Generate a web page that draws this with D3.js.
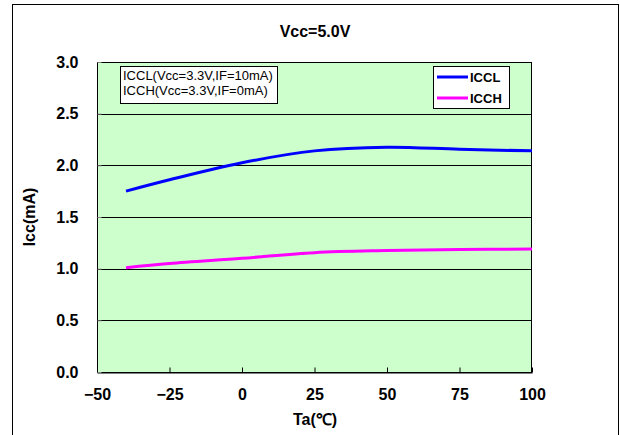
<!DOCTYPE html>
<html><head><meta charset="utf-8">
<script src="https://cdn.jsdelivr.net/npm/d3@7"></script>
<style>body{margin:0;background:#fff}svg{display:block}</style>
</head><body>
<svg id="c" width="620" height="435"></svg>
<script>
const temps = [-40, -25, 0, 25, 50, 75, 100];
const iccl = [1.75, 1.86, 2.025, 2.14, 2.175, 2.155, 2.14];
const icch = [1.01, 1.05, 1.10, 1.155, 1.175, 1.185, 1.19];
const xTicks = [-50, -25, 0, 25, 50, 75, 100];
const yTicks = [0, 0.5, 1.0, 1.5, 2.0, 2.5, 3.0];
const seriesNames = ["ICCL", "ICCH"];
const seriesColors = ["#0000FF", "#FF00FF"];
const noteLines = ["ICCL(Vcc=3.3V,IF=10mA)", "ICCH(Vcc=3.3V,IF=0mA)"];

const svg = d3.select("#c");
const L = 97, R = 532, T = 62, B = 372;
const x = d3.scaleLinear().domain([-50, 100]).range([L, R]);
const y = d3.scaleLinear().domain([0, 3]).range([B, T]);
const bold = "'Liberation Sans', Arial, sans-serif";

// outer frame
svg.append("rect").attr("x", 12.5).attr("y", 4.5).attr("width", 606).attr("height", 440)
  .attr("fill", "#fff").attr("stroke", "#000").attr("stroke-width", 1);

// plot bg
svg.append("rect").attr("x", L).attr("y", T).attr("width", R - L).attr("height", B - T)
  .attr("fill", "#CCFFCC");

// gridlines
svg.append("g").selectAll("line").data(yTicks).join("line")
  .attr("x1", L).attr("x2", R).attr("y1", d => Math.round(y(d)) + 0.5).attr("y2", d => Math.round(y(d)) + 0.5)
  .attr("stroke", "#000").attr("stroke-width", 1);

// plot border
svg.append("rect").attr("x", L + 0.5).attr("y", T + 0.5).attr("width", R - L - 1).attr("height", B - T)
  .attr("fill", "none").attr("stroke", "#000").attr("stroke-width", 1);

// x axis ticks (inside)
const xAxis = d3.axisBottom(x).tickValues(xTicks).tickSizeInner(-5).tickSizeOuter(0)
  .tickFormat(d => d < 0 ? "\u2212" + Math.abs(d) : d);
const gx = svg.append("g").attr("transform", `translate(0,${Math.round(B) + 0.5})`).call(xAxis);
gx.select(".domain").attr("stroke", "#000");
gx.selectAll(".tick line").attr("stroke", "#000");
gx.selectAll(".tick text").attr("y", 16).attr("dy", "0.71em")
  .attr("font-family", bold).attr("font-weight", "bold").attr("font-size", 16).attr("fill", "#000");

// y axis
const yAxis = d3.axisLeft(y).tickValues(yTicks).tickSizeInner(4).tickSizeOuter(0).tickFormat(d3.format(".1f"));
const gy = svg.append("g").attr("transform", `translate(${L + 0.5},0)`).call(yAxis);
gy.select(".domain").remove();
gy.selectAll(".tick line").attr("stroke", "#888").attr("x2", 4);
gy.selectAll(".tick text").attr("x", -19)
  .attr("font-family", bold).attr("font-weight", "bold").attr("font-size", 16).attr("fill", "#000");

// title
svg.append("text").attr("x", 315).attr("y", 37).attr("text-anchor", "middle")
  .attr("font-family", bold).attr("font-weight", "bold").attr("font-size", 16).text("Vcc=5.0V");
// axis titles
svg.append("text").attr("x", 315).attr("y", 425).attr("text-anchor", "middle")
  .attr("font-family", bold).attr("font-weight", "bold").attr("font-size", 16).text("Ta(\u2103)");
svg.append("text").attr("transform", "translate(35,217) rotate(-90)").attr("text-anchor", "middle")
  .attr("font-family", bold).attr("font-weight", "bold").attr("font-size", 16).text("Icc(mA)");

// series
const line = d3.line().x(d => x(d[0])).y(d => y(d[1])).curve(d3.curveCatmullRom.alpha(0.5));
[iccl, icch].forEach((vals, i) => {
  svg.append("path").datum(temps.map((t, j) => [t, vals[j]]))
    .attr("d", line).attr("fill", "none").attr("stroke", seriesColors[i]).attr("stroke-width", 3);
});

// note box
svg.append("rect").attr("x", 120.5).attr("y", 66.5).attr("width", 157).attr("height", 37)
  .attr("fill", "#fff").attr("stroke", "#000").attr("stroke-width", 1);
svg.append("g").selectAll("text").data(noteLines).join("text")
  .attr("x", 123).attr("y", (d, i) => 80 + i * 15)
  .attr("font-family", "'Liberation Sans', Arial, sans-serif").attr("font-size", 13).attr("fill", "#000")
  .text(d => d);

// legend
svg.append("rect").attr("x", 433.5).attr("y", 66.5).attr("width", 76).attr("height", 42)
  .attr("fill", "#fff").attr("stroke", "#000").attr("stroke-width", 1);
const lg = svg.append("g").selectAll("g").data(seriesNames).join("g")
  .attr("transform", (d, i) => `translate(437,${77 + i * 21})`);
lg.append("line").attr("x1", 0).attr("x2", 31).attr("stroke", (d, i) => seriesColors[i]).attr("stroke-width", 3);
lg.append("text").attr("x", 33).attr("y", 5).attr("font-family", bold).attr("font-weight", "bold")
  .attr("font-size", 13).text(d => d);
</script>
</body></html>
